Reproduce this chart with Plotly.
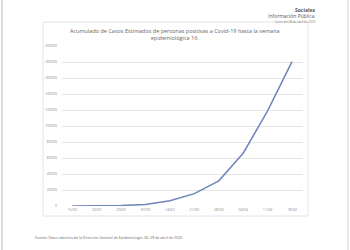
import plotly.graph_objects as go

dates = ["15/02", "22/02", "29/02", "07/03", "14/03", "21/03", "28/03", "04/04", "11/04", "18/04"]
casos = [100, 300, 600, 1800, 6500, 15500, 31500, 66000, 119000, 180500]
y_ticks = [0, 20000, 40000, 60000, 80000, 100000, 120000, 140000, 160000, 180000, 200000]

W, H = 350, 250
L, R, T, B = 62, 303, 46, 206

def px(x):
    return (x - L) / (R - L)

def py(y):
    return (B - y) / (B - T)

fig = go.Figure()
fig.add_trace(go.Scatter(
    x=dates, y=casos, mode="lines",
    line=dict(color="#6f84bd", width=1.5),
    showlegend=False, hoverinfo="skip",
))

shapes = [
    # chart box
    dict(type="rect", xref="paper", yref="paper", x0=px(43), x1=px(308), y0=py(216), y1=py(22),
         line=dict(color="#e4e4e4", width=1), fillcolor="rgba(0,0,0,0)", layer="below"),
    # page edges
    dict(type="line", xref="paper", yref="paper", x0=px(2), x1=px(2), y0=py(250), y1=py(0),
         line=dict(color="#dcdcdc", width=2)),
    dict(type="line", xref="paper", yref="paper", x0=px(348), x1=px(348), y0=py(250), y1=py(0),
         line=dict(color="#e8e8e8", width=2)),
]

annotations = [
    dict(text="Acumulado de Casos Estimados de personas positivas a Covid-19 hasta la semana<br>epidemiológica 16.",
         xref="paper", yref="paper", x=px(175), y=py(34), showarrow=False,
         font=dict(family="Open Sans", size=5.5, color="#666666"), align="center",
         xanchor="center", yanchor="middle"),
    dict(text="<b>Sociales</b>", xref="paper", yref="paper", x=px(317), y=py(10), showarrow=False,
         font=dict(family="Open Sans", size=5, color="#555555"), xanchor="right", yanchor="middle"),
    dict(text="Información Pública", xref="paper", yref="paper", x=px(317), y=py(16), showarrow=False,
         font=dict(family="Open Sans", size=5, color="#555555"), xanchor="right", yanchor="middle"),
    dict(text="Corte del 28 de abril de 2020", xref="paper", yref="paper", x=px(317), y=py(21.5), showarrow=False,
         font=dict(family="Open Sans", size=3, color="#777777"), xanchor="right", yanchor="middle"),
    dict(text="Fuente: Datos abiertos de la Dirección General de Epidemiología. SS. 28 de abril de 2020.",
         xref="paper", yref="paper", x=px(33), y=py(237), showarrow=False,
         font=dict(family="Open Sans", size=3.6, color="#666666"), xanchor="left", yanchor="middle"),
]

fig.update_layout(
    width=W, height=H,
    margin=dict(l=L, r=W - R, t=T, b=H - B),
    paper_bgcolor="white", plot_bgcolor="white",
    shapes=shapes, annotations=annotations,
    xaxis=dict(type="category", range=[-0.42, 9.45], showgrid=False, zeroline=False,
               showline=False, ticks="", tickfont=dict(family="Open Sans", size=3.6, color="#888888"),
               ticklen=0),
    yaxis=dict(range=[0, 200000], tickvals=y_ticks, ticktext=[str(v) for v in y_ticks],
               showgrid=True, gridcolor="#e6e6e6", gridwidth=1, zeroline=False,
               tickfont=dict(family="Open Sans", size=3.6, color="#888888"), ticks="",
               ticklabelstandoff=4),
)

fig.write_html("out.html")
